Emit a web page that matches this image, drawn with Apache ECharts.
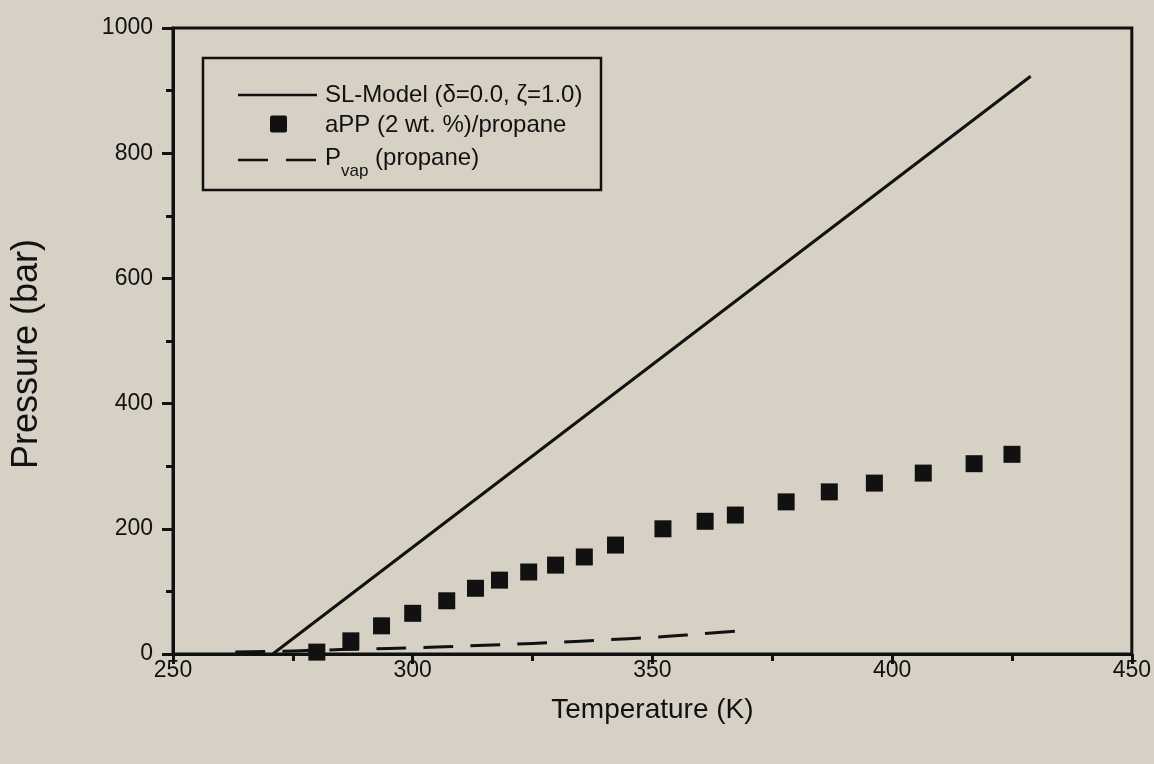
<!DOCTYPE html>
<html>
<head>
<meta charset="utf-8">
<script src="https://cdn.jsdelivr.net/npm/echarts@6/dist/echarts.min.js"></script>
<style>
html,body{margin:0;padding:0;background:#d6d1c4;}
#chart{width:1154px;height:764px;}
</style>
</head>
<body>
<div id="chart"></div>
<script>
// Axis ticks
const xTicks = [250, 300, 350, 400, 450];
const yTicks = [0, 200, 400, 600, 800, 1000];

// Legend labels
const legendNames = ['SL-Model (δ=0.0, ζ=1.0)', 'aPP (2 wt. %)/propane', 'Pvap (propane)'];

// SL-Model line (T in K, P in bar)
const slT = [270.8, 311.9, 428.9];
const slP = [0, 240, 923];

// aPP (2 wt. %)/propane experimental points
const appT = [280.0, 287.1, 293.5, 300.0, 307.1, 313.1, 318.1, 324.2, 329.8, 335.8,
              342.3, 352.2, 361.0, 367.3, 377.9, 386.9, 396.3, 406.5, 417.1, 425.0];
const appP = [3, 21, 45, 65, 85, 105, 118, 131, 142, 155,
              174, 200, 212, 222, 243, 259, 273, 289, 304, 319];

// Vapour pressure of propane
const vapT = [263, 270, 280, 290, 300, 310, 320, 330, 340, 350, 360, 368];
const vapP = [3, 4, 6, 8, 10, 12.5, 15.5, 18.5, 22.5, 26.5, 32, 37];

const zip = (a, b) => a.map((v, i) => [v, b[i]]);

const ink = '#111111';
const font = '"Liberation Sans", Arial, sans-serif';

// legend layout (pixels)
const LX = 203, LY = 58, LW = 398, LH = 132;
const rowY = [95, 124, 158];
const sampleX0 = 238, sampleX1 = 317, textX = 325;

const legendGraphic = {
  type: 'group',
  children: [
    {type: 'rect', shape: {x: LX, y: LY, width: LW, height: LH},
     style: {fill: 'none', stroke: ink, lineWidth: 2.5}},
    {type: 'line', shape: {x1: sampleX0, y1: rowY[0], x2: sampleX1, y2: rowY[0]},
     style: {stroke: ink, lineWidth: 2.5}},
    {type: 'text', x: textX, y: rowY[0],
     style: {text: legendNames[0], font: '24px ' + font, fill: ink, verticalAlign: 'middle'}},
    {type: 'rect', shape: {x: 270, y: rowY[1] - 8.5, width: 17, height: 17, r: 2},
     style: {fill: ink}},
    {type: 'text', x: textX, y: rowY[1] + 1,
     style: {text: legendNames[1], font: '24px ' + font, fill: ink, verticalAlign: 'middle'}},
    {type: 'line', shape: {x1: sampleX0, y1: rowY[2] + 2, x2: sampleX1, y2: rowY[2] + 2},
     style: {stroke: ink, lineWidth: 2.5, lineDash: [30, 18]}},
    {type: 'text', x: textX, y: rowY[2] - 12,
     style: {
       text: '{n|P}{s|vap}{n| (propane)}',
       fill: ink, verticalAlign: 'top',
       rich: {
         n: {fontFamily: font, fontSize: 24, fill: ink, lineHeight: 24, verticalAlign: 'top'},
         s: {fontFamily: font, fontSize: 17, fill: ink, padding: [17, 0, 0, 0], verticalAlign: 'top'}
       }
     }}
  ]
};

const chart = echarts.init(document.getElementById('chart'));
chart.setOption({
  backgroundColor: '#d6d1c4',
  animation: false,
  grid: {
    left: 173, right: 22, top: 28, bottom: 110,
    show: true, borderColor: ink, borderWidth: 3, backgroundColor: 'transparent'
  },
  graphic: [legendGraphic],
  xAxis: {
    type: 'value', min: xTicks[0], max: xTicks[xTicks.length - 1], interval: 50,
    name: 'Temperature (K)', nameLocation: 'middle', nameGap: 42,
    nameTextStyle: {fontFamily: font, fontSize: 28, color: ink},
    axisLine: {show: true, onZero: false, lineStyle: {color: ink, width: 3}},
    axisTick: {show: true, inside: false, length: 10, lineStyle: {color: ink, width: 3}},
    minorTick: {show: true, splitNumber: 2, length: 7, lineStyle: {color: ink, width: 3}},
    axisLabel: {fontFamily: font, fontSize: 23, color: ink, margin: 5,
                formatter: v => String(v)},
    splitLine: {show: false}
  },
  yAxis: {
    type: 'value', min: yTicks[0], max: yTicks[yTicks.length - 1], interval: 200,
    name: 'Pressure (bar)', nameLocation: 'middle', nameGap: 128,
    nameTextStyle: {fontFamily: font, fontSize: 36, color: ink, padding: [0, 26, 0, 0]},
    axisLine: {show: true, onZero: false, lineStyle: {color: ink, width: 3}},
    axisTick: {show: true, inside: false, length: 11, lineStyle: {color: ink, width: 3}},
    minorTick: {show: true, splitNumber: 2, length: 7, lineStyle: {color: ink, width: 3}},
    axisLabel: {fontFamily: font, fontSize: 23, color: ink, margin: 20,
                formatter: v => String(v)},
    splitLine: {show: false}
  },
  series: [
    {
      name: legendNames[0], type: 'line', data: zip(slT, slP),
      showSymbol: false, symbol: 'none',
      lineStyle: {color: ink, width: 3}, itemStyle: {color: ink}
    },
    {
      name: legendNames[1], type: 'scatter', data: zip(appT, appP),
      symbol: 'rect', symbolSize: 17,
      itemStyle: {color: ink, opacity: 1}
    },
    {
      name: legendNames[2], type: 'line', data: zip(vapT, vapP),
      showSymbol: false, symbol: 'none', smooth: true,
      lineStyle: {color: ink, width: 3, type: [30, 17]}, itemStyle: {color: ink}
    }
  ]
});
</script>
</body>
</html>
